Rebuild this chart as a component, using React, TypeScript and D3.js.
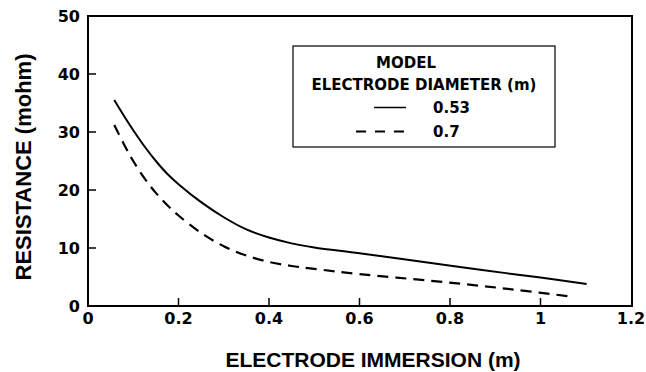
import React from 'react';
import * as d3 from 'd3';

// values
const solidX = [0.058, 0.08, 0.1, 0.125, 0.15, 0.175, 0.2, 0.25, 0.3, 0.35, 0.4, 0.45, 0.5, 0.6, 0.75, 0.871, 1.0, 1.102];
const solidY = [35.5, 32.7, 30.3, 27.5, 25.0, 22.8, 21.0, 17.9, 15.3, 13.2, 11.8, 10.8, 10.1, 9.1, 7.5, 6.2, 4.9, 3.8];
const dashX = [0.058, 0.08, 0.1, 0.125, 0.15, 0.175, 0.2, 0.25, 0.3, 0.35, 0.4, 0.45, 0.5, 0.6, 0.75, 0.871, 0.95, 1.06];
const dashY = [31.2, 27.8, 25.0, 22.0, 19.5, 17.4, 15.6, 12.6, 10.3, 8.7, 7.6, 6.9, 6.4, 5.5, 4.4, 3.45, 2.75, 1.7];
const xTicks = [0, 0.2, 0.4, 0.6, 0.8, 1, 1.2];
const yTicks = [0, 10, 20, 30, 40, 50];
const legendTitle = ['MODEL', 'ELECTRODE DIAMETER (m)'];
const legendLabels = ['0.53', '0.7'];

const W = 646;
const H = 372;
const left = 88, right = 631, top = 16, bottom = 306;

const App = () => {
  const x = d3.scaleLinear().domain([0, 1.2]).range([left, right]);
  const y = d3.scaleLinear().domain([0, 50]).range([bottom, top]);

  const line = d3.line<[number, number]>()
    .x(d => x(d[0]))
    .y(d => y(d[1]))
    .curve(d3.curveCatmullRom.alpha(0.5));

  const solidPts = solidX.map((v, i) => [v, solidY[i]] as [number, number]);
  const dashPts = dashX.map((v, i) => [v, dashY[i]] as [number, number]);

  const tickFont = { fontFamily: 'DejaVu Sans', fontWeight: 'bold', fontSize: 16 };
  const titleFont = { fontFamily: 'Liberation Sans, Arial', fontWeight: 'bold' };

  return (
    <svg width={W} height={H} style={{ position: 'absolute', left: 0, top: 0, background: '#fff' }}>
      {/* frame */}
      <rect x={left} y={top} width={632 - left} height={bottom - top} fill="none" stroke="#000" strokeWidth={2} />

      {/* x ticks (inward) */}
      {xTicks.map(t => (
        <g key={'x' + t}>
          {t > 0 && t < 1.2 && (
            <line x1={x(t)} x2={x(t)} y1={bottom} y2={bottom - 8} stroke="#000" strokeWidth={1.5} />
          )}
          <text x={x(t)} y={324} textAnchor="middle" {...tickFont}>{t}</text>
        </g>
      ))}

      {/* y ticks (inward) */}
      {yTicks.map(t => (
        <g key={'y' + t}>
          {t > 0 && t < 50 && (
            <line x1={left} x2={left + 8} y1={y(t)} y2={y(t)} stroke="#000" strokeWidth={1.5} />
          )}
          <text x={80} y={y(t)} dy="0.36em" textAnchor="end" {...tickFont}>{t}</text>
        </g>
      ))}

      {/* curves */}
      <path d={line(solidPts) || ''} fill="none" stroke="#000" strokeWidth={2} />
      <path d={line(dashPts) || ''} fill="none" stroke="#000" strokeWidth={2.2} strokeDasharray="11,7" />

      {/* legend */}
      <rect x={293} y={46} width={262} height={101} fill="#fff" stroke="#000" strokeWidth={1.2} />
      <text x={406} y={68} textAnchor="middle" fontFamily="DejaVu Sans" fontWeight="bold" fontSize={15}>{legendTitle[0]}</text>
      <text x={424} y={90} textAnchor="middle" fontFamily="DejaVu Sans" fontWeight="bold" fontSize={15}>{legendTitle[1]}</text>
      <line x1={374} x2={406} y1={107.5} y2={107.5} stroke="#000" strokeWidth={1.5} />
      <text x={433} y={113} fontFamily="DejaVu Sans" fontWeight="bold" fontSize={15}>{legendLabels[0]}</text>
      <line x1={356} x2={404} y1={131.5} y2={131.5} stroke="#000" strokeWidth={2} strokeDasharray="10,9" />
      <text x={433} y={137} fontFamily="DejaVu Sans" fontWeight="bold" fontSize={15}>{legendLabels[1]}</text>

      {/* axis titles */}
      <text x={373} y={367} textAnchor="middle" fontSize={21} {...titleFont}>ELECTRODE IMMERSION (m)</text>
      <text transform="translate(31,167) rotate(-90)" textAnchor="middle" fontSize={22} {...titleFont}>RESISTANCE (mohm)</text>
    </svg>
  );
};

export default App;
